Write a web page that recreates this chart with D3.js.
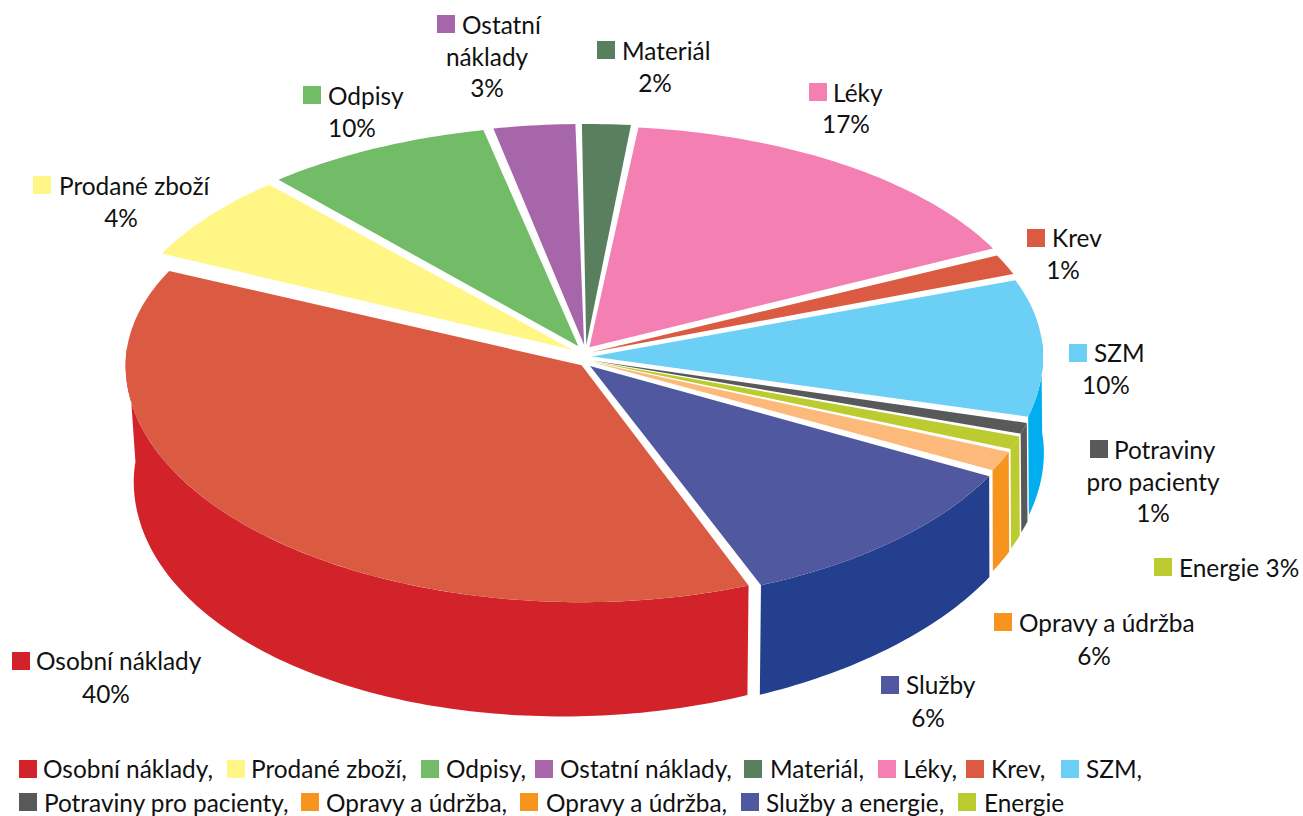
<!DOCTYPE html>
<html><head><meta charset="utf-8">
<script src="https://cdnjs.cloudflare.com/ajax/libs/d3/7.8.5/d3.min.js"></script>
<style>html,body{margin:0;background:#fff}svg{display:block}text{font-family:Lato,"Open Sans",sans-serif;fill:#111}</style>
</head><body><svg id="c" width="1303" height="816"></svg>
<script>
// Categories in drawing order, clockwise from the lower-right cut of the big slice
const categories = ["Osobní náklady","Prodané zboží","Odpisy","Ostatní náklady","Materiál","Léky","Krev","SZM","Potraviny pro pacienty","Energie","Opravy a údržba","Služby"];
// Printed percentages
const printedPercent = [40,4,10,3,2,17,1,10,1,3,6,6];
// Apparent slice sizes read from the drawn shape (percent of full circle)
const drawnShare = [38.0,6.25,8.07,2.88,1.73,15.88,1.46,9.68,0.75,0.89,1.36,11.09];
const topColors  = ["#DB5B42","#FFF685","#72BC68","#A866AA","#5A7F5E","#F37FB3","#DB5B42","#6BCFF6","#58595B","#BCCB2F","#FDB97A","#5059A0"];
const wallColors = ["#D2232A","#FFF685","#72BC68","#A866AA","#5A7F5E","#F37FB3","#DB5B42","#00AEEF","#58595B","#BCCB2F","#F7941D","#253F8F"];
const keyColors  = ["#D2232A","#FFF685","#72BC68","#A866AA","#5A7F5E","#F37FB3","#DB5B42","#6BCFF6","#58595B","#BCCB2F","#F7941D","#5059A0"];
const legendRow1 = [["Osobní náklady,","#D2232A"],["Prodané zboží,","#FFF685"],["Odpisy,","#72BC68"],["Ostatní náklady,","#A866AA"],["Materiál,","#5A7F5E"],["Léky,","#F37FB3"],["Krev,","#DB5B42"],["SZM,","#6BCFF6"]];
const legendRow2 = [["Potraviny pro pacienty,","#58595B"],["Opravy a údržba,","#F7941D"],["Opravy a údržba,","#F7941D"],["Služby a energie,","#5059A0"],["Energie","#BCCB2F"]];

const svg = d3.select("#c");
const deg = Math.PI/180;
const C = {x:586, y:357}, RxLeft = 456, RxRight = 451, RyTop = 221, RyBottom = 237;
const explodeUpperLeft = 17, explodeOther = 6, explodeY = 12;
const startDeg = 158;

const pie = d3.pie().sort(null).value(d=>d).startAngle(startDeg*deg).endAngle((startDeg+360)*deg).padAngle(0.55*deg);
const arcs = pie(drawnShare).map((a,i)=>{
  const mid=(a.startAngle+a.endAngle)/2, sn=Math.sin(mid), cs=Math.cos(mid);
  const ex=(sn<0&&cs>0)?explodeUpperLeft:explodeOther;
  return {...a,i,mid,apex:{x:C.x+ex*sn,y:C.y-explodeY*cs}};
});
const rim = (s,a)=>{
  const u=Math.sin(a), v=-Math.cos(a);
  return {u,v,x:s.apex.x+(u>0?RxRight:RxLeft)*u,y:s.apex.y+(v>0?RyBottom:RyTop)*v};
};
const below = p=>{
  const v=Math.max(p.v,0);
  return {x:p.x+4.5-3.6*p.u-5*v*v, y:p.y+106-10*p.u+8*v};
};
const sample=(a0,a1)=>{
  const n=Math.max(2,Math.ceil((a1-a0)/(1*deg)));
  return d3.range(n+1).map(k=>a0+(a1-a0)*k/n);
};
const line=d3.line().x(d=>d.x).y(d=>d.y);
const midDeg=s=>((s.mid/deg)%360+360)%360;
const order=arcs.slice().sort((a,b)=>Math.abs(midDeg(b)-180)-Math.abs(midDeg(a)-180));
const gPie=svg.append("g");
order.forEach(s=>{
  const m=midDeg(s);
  const lo=s.startAngle+s.padAngle/2, hi=s.endAngle-s.padAngle/2;
  if(m>85&&m<275){
    const turn=Math.floor((s.mid/deg)/360)*360*deg;
    const a0=Math.max(lo-turn,85*deg), a1=Math.min(hi-turn,275*deg);
    const top=sample(a0,a1).map(a=>rim(s,a));
    gPie.append("path").attr("d",line(top.concat(top.map(below).reverse()))+"Z")
      .attr("fill",wallColors[s.i]);
  }
  const pts=[s.apex].concat(sample(lo,hi).map(a=>rim(s,a)));
  gPie.append("path").attr("d",line(pts)+"Z").attr("fill",topColors[s.i]);
});

const labelLayout=[
 {key:[12,652],tx:36,by:670,rest:[[106,703]]},
 {key:[33,176],tx:59,by:195,rest:[[121,227]]},
 {key:[303,86],tx:328,by:105,rest:[[352,137]]},
 {key:[437,15],tx:462,by:34,rest:[[487,66],[487,97]],split:["Ostatní","náklady"]},
 {key:[597,41],tx:622,by:60,rest:[[655,92]]},
 {key:[809,83],tx:833,by:102,rest:[[846,133]]},
 {key:[1027,229],tx:1052,by:247,rest:[[1063,279]]},
 {key:[1069,344],tx:1094,by:362,rest:[[1106,394]]},
 {key:[1090,440],tx:1114,by:459,rest:[[1153,491],[1153,522]],split:["Potraviny","pro pacienty"]},
 {key:[1154,558],tx:1179,by:577,rest:[],inline:true},
 {key:[994,613],tx:1019,by:632,rest:[[1094,665]]},
 {key:[881,676],tx:906,by:694,rest:[[928,727]]}
];
const FS=24.4;
const gL=svg.append("g").attr("font-size",FS);
labelLayout.forEach((L,i)=>{
  gL.append("rect").attr("x",L.key[0]).attr("y",L.key[1]).attr("width",18).attr("height",18).attr("fill",keyColors[i]);
  const pct=printedPercent[i]+"%";
  const first=L.inline?categories[i]+" "+pct:(L.split?L.split[0]:categories[i]);
  gL.append("text").attr("x",L.tx).attr("y",L.by).text(first);
  const rest=L.split?[L.split[1],pct]:(L.inline?[]:[pct]);
  rest.forEach((t,k)=>gL.append("text").attr("x",L.rest[k][0]).attr("y",L.rest[k][1]).attr("text-anchor","middle").text(t));
});

const legendX1=[19,227,421,535,744,878,966,1061], legendT1=[43,251,446,560,770,903,991,1086];
const legendX2=[19,301,520,741,958], legendT2=[44,326,546,766,984];
const gLeg=svg.append("g").attr("font-size",FS);
[[legendRow1,legendX1,legendT1,760,778],[legendRow2,legendX2,legendT2,793,812]].forEach(([row,xs,ts,ky,by])=>{
  row.forEach((d,i)=>{
    gLeg.append("rect").attr("x",xs[i]).attr("y",ky).attr("width",18).attr("height",18).attr("fill",d[1]);
    gLeg.append("text").attr("x",ts[i]).attr("y",by).text(d[0]);
  });
});
</script></body></html>
